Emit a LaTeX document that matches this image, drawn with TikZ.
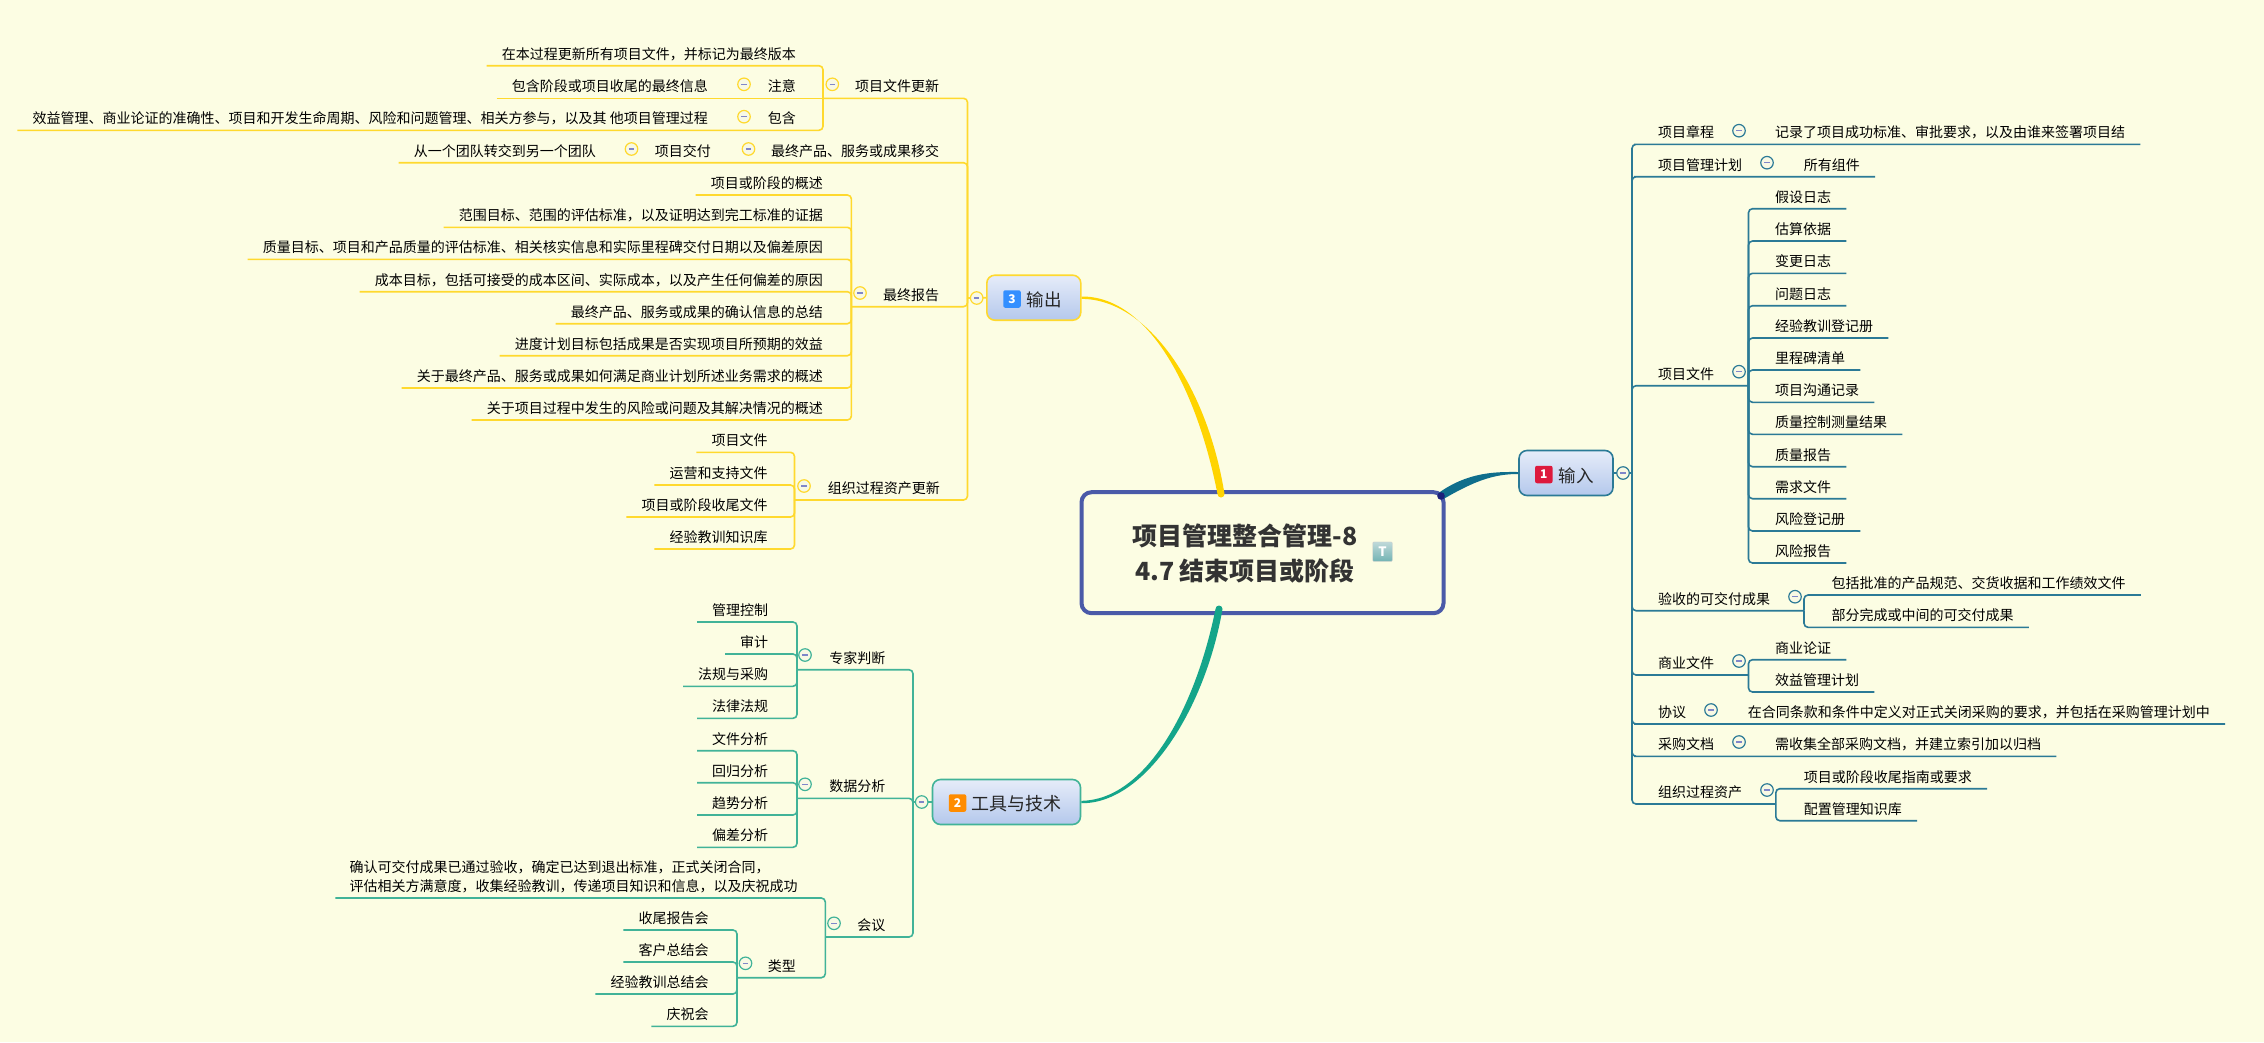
\documentclass[tikz,border=0pt]{standalone}
\usepackage{fontspec}
\setmainfont{Noto Sans CJK SC}
\definecolor{pagebg}{HTML}{FCFDE3}
\definecolor{yline}{HTML}{FFD92E}
\definecolor{ycurve}{HTML}{FFD400}
\definecolor{tline}{HTML}{41B398}
\definecolor{tcurve}{HTML}{14A58A}
\definecolor{iline}{HTML}{2B7A96}
\definecolor{icurve}{HTML}{0F6E8C}
\definecolor{rootline}{HTML}{4A5AA8}
\definecolor{minusc}{HTML}{7F86C9}
\definecolor{boxtop}{HTML}{E6ECF9}
\definecolor{boxbot}{HTML}{B4C8EC}
\newcommand{\tgm}{\rule{5.5pt}{1.3pt}}
\tikzset{
  topic/.style={inner sep=0pt,text height=12pt,text depth=6.3pt,font=\fontsize{14}{14}\selectfont,text=black},
  toR/.style={topic,anchor=south east},
  toL/.style={topic,anchor=south west},
  toggle/.style={circle,fill=white!70!minusc!12!pagebg,minimum size=12.5pt,inner sep=0pt,line width=1.2pt,text=minusc},
  togO/.style={toggle,draw=yline},
  togT/.style={toggle,draw=tline},
  togI/.style={toggle,draw=iline},
  olink/.style={yline,line width=1.6pt,rounded corners=4pt},
  tlink/.style={tline,line width=1.6pt,rounded corners=4pt},
  ilink/.style={iline,line width=1.6pt,rounded corners=4pt},
  branch/.style={rounded corners=8pt,top color=boxtop,bottom color=boxbot,line width=1.6pt},
  blabel/.style={inner sep=0pt,font=\fontsize{17.5}{17.5}\selectfont,text=black!85},
  badge/.style={rounded corners=2pt,inner sep=0pt,minimum width=17.5pt,minimum height=17.5pt,text=white,font=\bfseries\fontsize{12}{12}\selectfont}
}
\begin{document}
\begin{tikzpicture}[x=1pt,y=-1pt]
\useasboundingbox[fill=pagebg] (0,0) rectangle (2264,1042);

\node[draw=rootline,line width=4pt,rounded corners=10pt,minimum width=362pt,minimum height=121pt,inner sep=0pt] (root) at (1262.5,552.7) {};
\node[inner sep=0pt,align=center,text=black!80,font=\bfseries\fontsize{25}{34.7}\selectfont] (rootT) at (1245,553.5) {项目管理整合管理-8\\4.7 结束项目或阶段};
\node[rounded corners=1pt,draw=black!20,top color=cyan!25!gray!40!white,bottom color=cyan!30!gray!85,minimum size=19.5pt,inner sep=0pt,text=white,font=\bfseries\fontsize{13}{13}\selectfont] (rootI) at (1382.5,551.7) {T};

\coordinate (rootO) at (1221,494);
\coordinate (rootG) at (1219,609);
\coordinate (rootB) at (1441,496);

\node[branch,draw=yline,minimum width=94pt,minimum height=45pt,inner sep=0pt] (outB) at (1033.8,297.7) {};
\node[badge,fill=blue!55!cyan!80!white] (outN) at (1012,299) {3};
\node[blabel,anchor=west] (outT) at (1026.7,300) {输出};

\node[branch,draw=tline,minimum width=148pt,minimum height=45pt,inner sep=0pt] (toolB) at (1006.5,802) {};
\node[badge,fill=orange!90!yellow] (toolN) at (957.5,803) {2};
\node[blabel,font=\fontsize{18}{18}\selectfont,anchor=west] (toolT) at (971.6,804) {工具与技术};

\node[branch,draw=iline,minimum width=94pt,minimum height=45pt,inner sep=0pt] (inB) at (1566,473) {};
\node[badge,fill=red!85!blue!90!white] (inN) at (1543.8,474.5) {1};
\node[blabel,anchor=west] (inT) at (1558.5,475.5) {输入};

\fill[ycurve] ([xshift=-3.5pt]rootO) .. controls (1196,385) and (1147,296) .. ([yshift=1.2pt]outB.east) -- ([yshift=-1.2pt]outB.east) .. controls (1147,299) and (1207,385) .. ([xshift=3.5pt]rootO) arc (0:-180:3.5pt) -- cycle;
\fill[tcurve] ([xshift=-3.5pt]rootG) .. controls (1195,710) and (1145,800) .. ([yshift=1.2pt]toolB.east) -- ([yshift=-1.2pt]toolB.east) .. controls (1145,804) and (1205,710) .. ([xshift=3.5pt]rootG) arc (0:180:3.5pt) -- cycle;
\fill[icurve] ([shift={(-2.5pt,3pt)}]rootB) .. controls (1468,472) and (1495,471.8) .. ([yshift=1pt]inB.west) -- ([yshift=-1pt]inB.west) .. controls (1495,474) and (1476,480) .. ([shift={(2.5pt,-3pt)}]rootB) -- cycle;
\fill[rootline!60!blue!60!black] (rootB) circle (3.8pt);

\coordinate (Ot) at (967.5,298);
\coordinate (O1k) at (823,98.3);
\coordinate (O3k) at (851.4,306.7);
\coordinate (O4k) at (794.5,500);

\node[toR] (O1) at (939.4,98.3) {项目文件更新};
\node[toR] (O1a) at (796,65.7) {在本过程更新所有项目文件，并标记为最终版本};
\node[toR] (O1b) at (796,98.3) {注意};
\node[toR] (O1b1) at (708,98.3) {包含阶段或项目收尾的最终信息};
\node[toR] (O1c) at (796,130.3) {包含};
\node[toR] (O1c1) at (708,130.3) {效益管理、商业论证的准确性、项目和开发生命周期、风险和问题管理、相关方参与，以及其 他项目管理过程};

\node[toR] (O2) at (939.4,162.7) {最终产品、服务或成果移交};
\node[toR] (O2a) at (711,162.7) {项目交付};
\node[toR] (O2b) at (596,162.7) {从一个团队转交到另一个团队};

\node[toR] (O3) at (939.4,306.7) {最终报告};
\node[toR] (O3a) at (823,195) {项目或阶段的概述};
\node[toR] (O3b) at (823,227.3) {范围目标、范围的评估标准，以及证明达到完工标准的证据};
\node[toR] (O3c) at (823,259.3) {质量目标、项目和产品质量的评估标准、相关核实信息和实际里程碑交付日期以及偏差原因};
\node[toR] (O3d) at (823,291.7) {成本目标，包括可接受的成本区间、实际成本，以及产生任何偏差的原因};
\node[toR] (O3e) at (823,323.7) {最终产品、服务或成果的确认信息的总结};
\node[toR] (O3f) at (823,355.7) {进度计划目标包括成果是否实现项目所预期的效益};
\node[toR] (O3g) at (823,388) {关于最终产品、服务或成果如何满足商业计划所述业务需求的概述};
\node[toR] (O3h) at (823,420) {关于项目过程中发生的风险或问题及其解决情况的概述};

\node[toR] (O4) at (940,500) {组织过程资产更新};
\node[toR] (O4a) at (767.7,452.3) {项目文件};
\node[toR] (O4b) at (767.7,485) {运营和支持文件};
\node[toR] (O4c) at (767.7,517) {项目或阶段收尾文件};
\node[toR] (O4d) at (767.7,549) {经验教训知识库};

\path[olink] (outB.west) edge (Ot);
\draw[olink] (O1k) -| (Ot);
\draw[olink] ([xshift=-15pt]O2b.south west) -- ([xshift=-15pt]O2a.south west) -- ([xshift=-15pt]O2.south west) -| (Ot);
\draw[olink] (O3k) -| (Ot);
\draw[olink] (O4k) -| (Ot);

\draw[olink] ([xshift=-15pt]O1a.south west) -| (O1k);
\draw[olink] ([xshift=-15pt]O1b1.south west) -- ([xshift=-15pt]O1b.south west) -- (O1k);
\draw[olink] ([xshift=-15pt]O1c1.south west) -- ([xshift=-15pt]O1c.south west) -| (O1k);

\draw[olink] ([xshift=-15pt]O3a.south west) -| (O3k);
\draw[olink] ([xshift=-15pt]O3b.south west) -| (O3k);
\draw[olink] ([xshift=-15pt]O3c.south west) -| (O3k);
\draw[olink] ([xshift=-15pt]O3d.south west) -| (O3k);
\draw[olink] ([xshift=-15pt]O3e.south west) -| (O3k);
\draw[olink] ([xshift=-15pt]O3f.south west) -| (O3k);
\draw[olink] ([xshift=-15pt]O3g.south west) -| (O3k);
\draw[olink] ([xshift=-15pt]O3h.south west) -| (O3k);

\draw[olink] ([xshift=-15pt]O4a.south west) -| (O4k);
\draw[olink] ([xshift=-15pt]O4b.south west) -| (O4k);
\draw[olink] ([xshift=-15pt]O4c.south west) -| (O4k);
\draw[olink] ([xshift=-15pt]O4d.south west) -| (O4k);

\node[togO] (Og) at (976.7,298) {\tgm};
\node[togO] (O1g) at (832.3,84.3) {\tgm};
\node[togO] (O1bg) at (744,84.3) {\tgm};
\node[togO] (O1cg) at (744,116.7) {\tgm};
\node[togO] (O2g) at (748.5,149) {\tgm};
\node[togO] (O2ag) at (631.5,149) {\tgm};
\node[togO] (O3g) at (860,293) {\tgm};
\node[togO] (O4g) at (804,486) {\tgm};

\coordinate (Tt) at (913,802);
\coordinate (T1k) at (797,669.7);
\coordinate (T2k) at (797,798.3);
\coordinate (T3k) at (825.3,937);
\coordinate (T3bk) at (737,977.7);

\node[toR] (T1) at (885.5,669.7) {专家判断};
\node[toR] (T1a) at (768.4,622) {管理控制};
\node[toR] (T1b) at (768.4,654) {审计};
\node[toR] (T1c) at (768.4,686.3) {法规与采购};
\node[toR] (T1d) at (768.4,718.3) {法律法规};

\node[toR] (T2) at (885.5,798.3) {数据分析};
\node[toR] (T2a) at (768.4,750.7) {文件分析};
\node[toR] (T2b) at (768.4,782.7) {回归分析};
\node[toR] (T2c) at (768.4,815) {趋势分析};
\node[toR] (T2d) at (768.4,847.3) {偏差分析};

\node[toR] (T3) at (885.5,937) {会议};
\node[inner sep=0pt,anchor=south west,align=left,font=\fontsize{14}{19.3}\selectfont,text=black] (T3a) at (349.4,893) {确认可交付成果已通过验收，确定已达到退出标准，正式关闭合同，\\评估相关方满意度，收集经验教训，传递项目知识和信息，以及庆祝成功};
\node[toR] (T3b) at (796,977.7) {类型};
\node[toR] (T3b1) at (708.7,930) {收尾报告会};
\node[toR] (T3b2) at (708.7,962) {客户总结会};
\node[toR] (T3b3) at (708.7,994) {经验教训总结会};
\node[toR] (T3b4) at (708.7,1026.3) {庆祝会};

\path[tlink] (toolB.west) edge (Tt);
\draw[tlink] (T1k) -| (Tt);
\draw[tlink] (T2k) -| (Tt);
\draw[tlink] (T3k) -| (Tt);

\draw[tlink] ([xshift=-15pt]T1a.south west) -| (T1k);
\draw[tlink] ([xshift=-15pt]T1b.south west) -| (T1k);
\draw[tlink] ([xshift=-15pt]T1c.south west) -| (T1k);
\draw[tlink] ([xshift=-15pt]T1d.south west) -| (T1k);

\draw[tlink] ([xshift=-15pt]T2a.south west) -| (T2k);
\draw[tlink] ([xshift=-15pt]T2b.south west) -| (T2k);
\draw[tlink] ([xshift=-15pt]T2c.south west) -| (T2k);
\draw[tlink] ([xshift=-15pt]T2d.south west) -| (T2k);

\draw[tlink] ([shift={(-14pt,-5pt)}]T3a.south west) -| (T3k);
\draw[tlink] (T3bk) -| (T3k);
\draw[tlink] ([xshift=-15pt]T3b1.south west) -| (T3bk);
\draw[tlink] ([xshift=-15pt]T3b2.south west) -| (T3bk);
\draw[tlink] ([xshift=-15pt]T3b3.south west) -| (T3bk);
\draw[tlink] ([xshift=-15pt]T3b4.south west) -| (T3bk);

\node[togT] (Tg) at (921.7,802) {\tgm};
\node[togT] (T1g) at (805,655) {\tgm};
\node[togT] (T2g) at (805,784.3) {\tgm};
\node[togT] (T3g) at (834,923.3) {\tgm};
\node[togT] (T3bg) at (745.5,963.3) {\tgm};

\coordinate (It) at (1632,473);
\coordinate (I3k) at (1748.5,385.7);
\coordinate (I4k) at (1804,610.7);
\coordinate (I5k) at (1748.5,675);
\coordinate (I8k) at (1775.8,804);

\node[toL] (I1) at (1658,144.3) {项目章程};
\node[toL] (I1a) at (1775,144.3) {记录了项目成功标准、审批要求，以及由谁来签署项目结};
\node[toL] (I2) at (1658,176.7) {项目管理计划};
\node[toL] (I2a) at (1803.6,176.7) {所有组件};

\node[toL] (I3) at (1658,385.7) {项目文件};
\node[toL] (I3a) at (1775,208.7) {假设日志};
\node[toL] (I3b) at (1775,241) {估算依据};
\node[toL] (I3c) at (1775,273.3) {变更日志};
\node[toL] (I3d) at (1775,305.7) {问题日志};
\node[toL] (I3e) at (1775,338) {经验教训登记册};
\node[toL] (I3f) at (1775,370) {里程碑清单};
\node[toL] (I3g) at (1775,402.3) {项目沟通记录};
\node[toL] (I3h) at (1775,434.3) {质量控制测量结果};
\node[toL] (I3i) at (1775,466.7) {质量报告};
\node[toL] (I3j) at (1775,498.7) {需求文件};
\node[toL] (I3l) at (1775,531) {风险登记册};
\node[toL] (I3m) at (1775,563) {风险报告};

\node[toL] (I4) at (1658,610.7) {验收的可交付成果};
\node[toL] (I4a) at (1831.4,595) {包括批准的产品规范、交货收据和工作绩效文件};
\node[toL] (I4b) at (1831.4,627.3) {部分完成或中间的可交付成果};

\node[toL] (I5) at (1658,675) {商业文件};
\node[toL] (I5a) at (1775,659.7) {商业论证};
\node[toL] (I5b) at (1775,692) {效益管理计划};

\node[toL] (I6) at (1658,724) {协议};
\node[toL] (I6a) at (1747.6,724) {在合同条款和条件中定义对正式关闭采购的要求，并包括在采购管理计划中};

\node[toL] (I7) at (1658,756.3) {采购文档};
\node[toL] (I7a) at (1775,756.3) {需收集全部采购文档，并建立索引加以归档};

\node[toL] (I8) at (1658,804) {组织过程资产};
\node[toL] (I8a) at (1803.6,788.7) {项目或阶段收尾指南或要求};
\node[toL] (I8b) at (1803.6,820.7) {配置管理知识库};

\path[ilink] (inB.east) edge (It);
\draw[ilink] ([xshift=15pt]I1a.south east) -- ([xshift=-20pt]I1.south west) -| (It);
\draw[ilink] ([xshift=15pt]I2a.south east) -- ([xshift=-20pt]I2.south west) -| (It);
\draw[ilink] (I3k) -| (It);
\draw[ilink] (I4k) -| (It);
\draw[ilink] (I5k) -| (It);
\draw[ilink] ([xshift=15pt]I6a.south east) -- ([xshift=-20pt]I6.south west) -| (It);
\draw[ilink] ([xshift=15pt]I7a.south east) -- ([xshift=-20pt]I7.south west) -| (It);
\draw[ilink] (I8k) -| (It);

\draw[ilink] ([xshift=15pt]I3a.south east) -| (I3k);
\draw[ilink] ([xshift=15pt]I3b.south east) -| (I3k);
\draw[ilink] ([xshift=15pt]I3c.south east) -| (I3k);
\draw[ilink] ([xshift=15pt]I3d.south east) -| (I3k);
\draw[ilink] ([xshift=15pt]I3e.south east) -| (I3k);
\draw[ilink] ([xshift=15pt]I3f.south east) -| (I3k);
\draw[ilink] ([xshift=15pt]I3g.south east) -| (I3k);
\draw[ilink] ([xshift=15pt]I3h.south east) -| (I3k);
\draw[ilink] ([xshift=15pt]I3i.south east) -| (I3k);
\draw[ilink] ([xshift=15pt]I3j.south east) -| (I3k);
\draw[ilink] ([xshift=15pt]I3l.south east) -| (I3k);
\draw[ilink] ([xshift=15pt]I3m.south east) -| (I3k);

\draw[ilink] ([xshift=15pt]I4a.south east) -| (I4k);
\draw[ilink] ([xshift=15pt]I4b.south east) -| (I4k);
\draw[ilink] ([xshift=15pt]I5a.south east) -| (I5k);
\draw[ilink] ([xshift=15pt]I5b.south east) -| (I5k);
\draw[ilink] ([xshift=15pt]I8a.south east) -| (I8k);
\draw[ilink] ([xshift=15pt]I8b.south east) -| (I8k);

\node[togI] (Ig) at (1623,473) {\tgm};
\node[togI] (I1g) at (1739,130.7) {\tgm};
\node[togI] (I2g) at (1767,162.7) {\tgm};
\node[togI] (I3g) at (1739,371.7) {\tgm};
\node[togI] (I4g) at (1795,596.7) {\tgm};
\node[togI] (I5g) at (1739,661) {\tgm};
\node[togI] (I6g) at (1711,710) {\tgm};
\node[togI] (I7g) at (1739,742) {\tgm};
\node[togI] (I8g) at (1767,790) {\tgm};

\end{tikzpicture}
\end{document}
